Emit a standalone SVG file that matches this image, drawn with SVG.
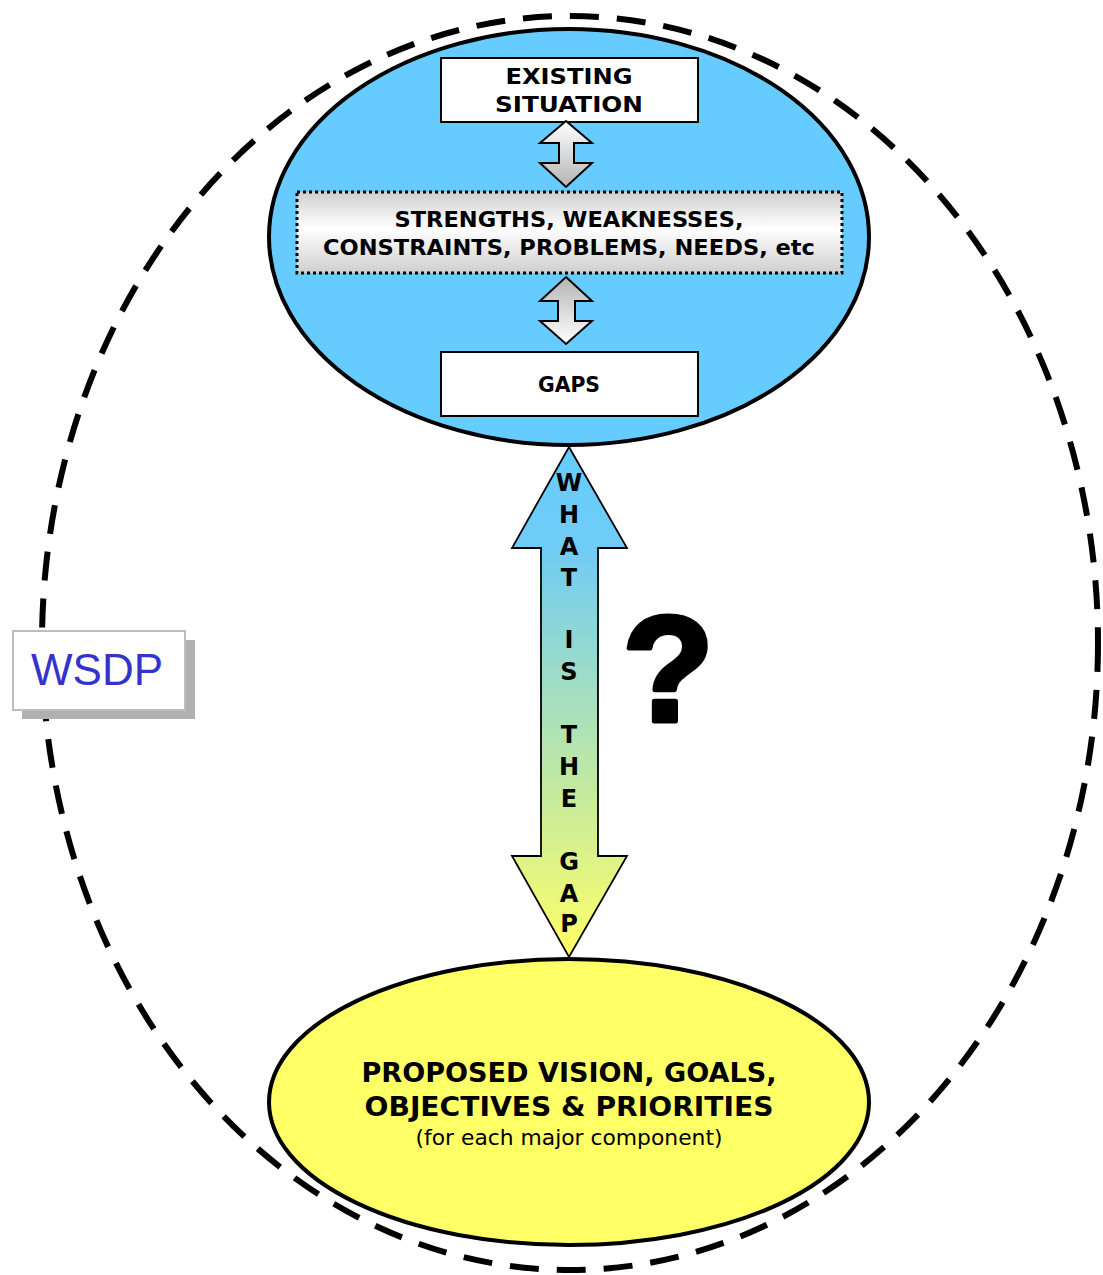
<svg xmlns="http://www.w3.org/2000/svg" width="1103" height="1275" viewBox="0 0 1103 1275">
  <style>
    .lbl { font-family: "Comic Sans MS", "DejaVu Sans", sans-serif; font-weight: bold; fill: #000; text-anchor: middle; }
    .box { fill: #fff; stroke: #000; stroke-width: 2; }
    .dbl { stroke: #000; stroke-width: 2; stroke-linejoin: miter; }
  </style>
  <defs>
    <linearGradient id="grayDown" x1="0" y1="0" x2="0" y2="1">
      <stop offset="0" stop-color="#ffffff"/>
      <stop offset="1" stop-color="#b4b4b4"/>
    </linearGradient>
    <linearGradient id="grayUp" x1="0" y1="0" x2="0" y2="1">
      <stop offset="0" stop-color="#b4b4b4"/>
      <stop offset="1" stop-color="#ffffff"/>
    </linearGradient>
    <linearGradient id="band" x1="0" y1="0" x2="0" y2="1">
      <stop offset="0" stop-color="#cfcfcf"/>
      <stop offset="0.45" stop-color="#ffffff"/>
      <stop offset="1" stop-color="#cfcfcf"/>
    </linearGradient>
    <linearGradient id="gapFill" x1="0" y1="0" x2="0" y2="1">
      <stop offset="0" stop-color="#66ccff"/>
      <stop offset="0.2" stop-color="#70ccf4"/>
      <stop offset="1" stop-color="#ffff66"/>
    </linearGradient>
  </defs>

  <rect width="1103" height="1275" fill="#fff"/>

  <!-- outer boundary -->
  <ellipse cx="570" cy="643" rx="528" ry="627" fill="none" stroke="#000" stroke-width="6" stroke-dasharray="29 18"/>

  <!-- WSDP tag -->
  <g id="wsdp">
    <rect x="22" y="640" width="173" height="79" fill="#b0b0b0"/>
    <rect x="13" y="631" width="172" height="79" fill="#fff" stroke="#bdbdbd" stroke-width="2"/>
    <text x="97" y="685" font-family="Liberation Sans, Arial, sans-serif" font-size="44" fill="#3333cc" text-anchor="middle">WSDP</text>
  </g>

  <!-- current-state ellipse -->
  <g id="current">
    <ellipse cx="569" cy="237" rx="300" ry="208" fill="#66ccff" stroke="#000" stroke-width="4"/>
  </g>

  <g id="existing">
    <rect class="box" x="441" y="58" width="257" height="64"/>
    <text class="lbl" x="569" y="84" font-size="21" textLength="127" lengthAdjust="spacingAndGlyphs">EXISTING</text>
    <text class="lbl" x="569" y="112" font-size="21" textLength="148" lengthAdjust="spacingAndGlyphs">SITUATION</text>
  </g>

  <g id="swot">
    <rect x="297" y="192" width="545" height="81" fill="url(#band)" stroke="#000" stroke-width="3" stroke-dasharray="3 3"/>
    <text class="lbl" x="569" y="227" font-size="21" textLength="349" lengthAdjust="spacingAndGlyphs">STRENGTHS, WEAKNESSES,</text>
    <text class="lbl" x="569" y="255" font-size="21" textLength="492" lengthAdjust="spacingAndGlyphs">CONSTRAINTS, PROBLEMS, NEEDS, etc</text>
  </g>

  <g id="gaps">
    <rect class="box" x="441" y="352" width="257" height="64"/>
    <text class="lbl" x="569" y="392" font-size="21" textLength="62" lengthAdjust="spacingAndGlyphs">GAPS</text>
  </g>

  <!-- target-state ellipse -->
  <g id="proposed">
    <ellipse cx="569" cy="1102" rx="300" ry="143" fill="#ffff66" stroke="#000" stroke-width="4"/>
    <text class="lbl" x="569" y="1082" font-size="26" textLength="415" lengthAdjust="spacingAndGlyphs">PROPOSED VISION, GOALS,</text>
    <text class="lbl" x="569" y="1116" font-size="26" textLength="409" lengthAdjust="spacingAndGlyphs">OBJECTIVES &amp; PRIORITIES</text>
    <text x="569" y="1145" font-family="Comic Sans MS, DejaVu Sans, sans-serif" font-size="21" text-anchor="middle" textLength="307" lengthAdjust="spacingAndGlyphs">(for each major component)</text>
  </g>

  <!-- connectors -->
  <g id="connectors">
    <path class="dbl" fill="url(#grayDown)" d="M566 121 L592 143 L574 143 L574 163 L592 163 L566 187 L540 163 L559 163 L559 143 L540 143 Z"/>
    <path class="dbl" fill="url(#grayUp)" d="M566 277 L592 301 L575 301 L575 321 L592 321 L566 344 L540 321 L558 321 L558 301 L540 301 Z"/>
    <path fill="url(#gapFill)" stroke="#000" stroke-width="1.8" d="M569 447 L627 548 L598 548 L598 856 L627 856 L569 957 L512 856 L541 856 L541 548 L512 548 Z"/>
    <g class="lbl" font-size="24">
      <text x="569" y="491">W</text>
      <text x="569" y="523">H</text>
      <text x="569" y="555">A</text>
      <text x="569" y="586">T</text>
      <text x="569" y="648">I</text>
      <text x="569" y="680">S</text>
      <text x="569" y="743">T</text>
      <text x="569" y="775">H</text>
      <text x="569" y="807">E</text>
      <text x="569" y="870">G</text>
      <text x="569" y="902">A</text>
      <text x="569" y="932">P</text>
    </g>
  </g>

  <!-- question mark -->
  <text x="668" y="721" font-family="Liberation Sans, Arial, sans-serif" font-weight="bold" font-size="150" text-anchor="middle" stroke="#000" stroke-width="5" stroke-linejoin="round">?</text>
</svg>
